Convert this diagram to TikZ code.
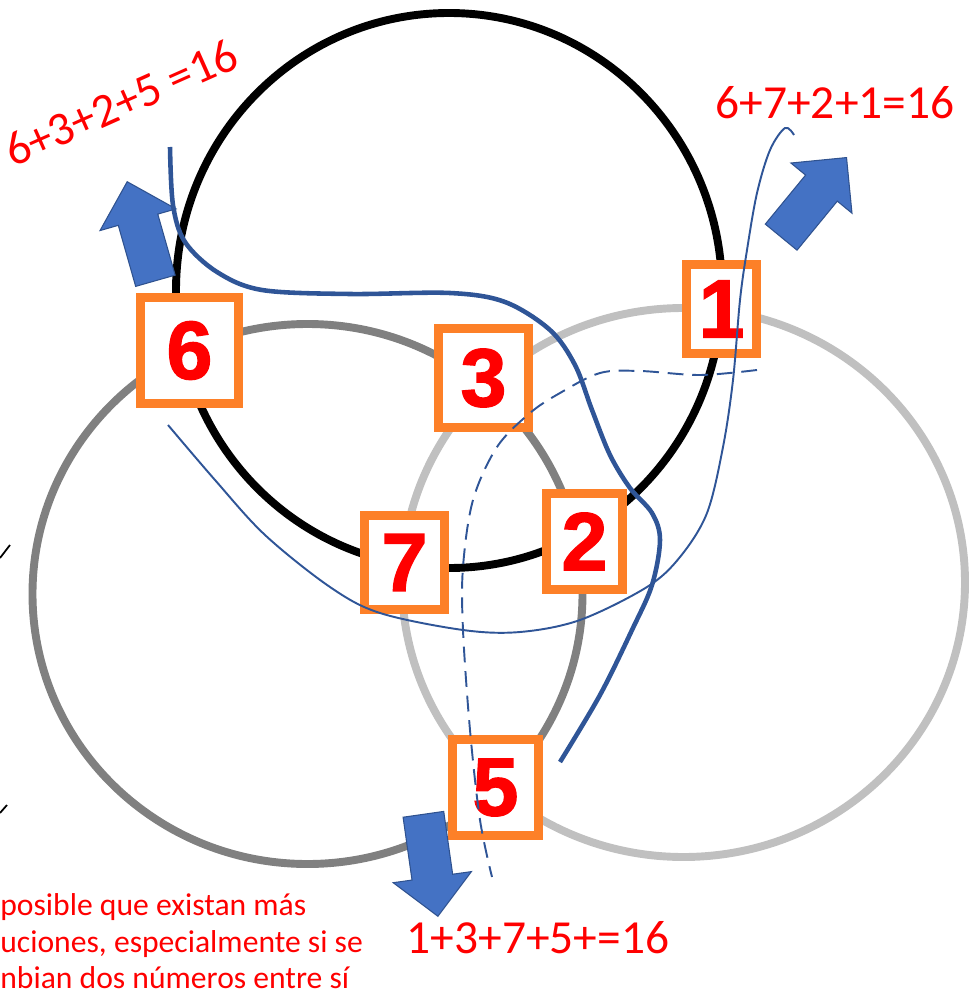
\documentclass[tikz,border=0pt]{standalone}
\usepackage{fontspec}
\setmainfont{Carlito}
\newfontfamily\numfont[BoldFeatures={FakeBold=1.6}]{Liberation Sans}
\usetikzlibrary{shapes.arrows}
\definecolor{ringdark}{RGB}{128,128,128}
\definecolor{ringlight}{RGB}{192,192,192}
\definecolor{boxorange}{RGB}{253,128,40}
\definecolor{routeblue}{RGB}{47,85,151}
\definecolor{arrowfill}{RGB}{68,114,196}
\definecolor{arrowborder}{RGB}{47,82,143}
\definecolor{sumred}{RGB}{255,0,0}

\begin{document}
\begin{tikzpicture}[
    x=0.02cm, y=-0.02cm,
    ring/.style={line width=4.5pt},
    numbox/.style={draw=boxorange, fill=white, line width=5pt, inner sep=0pt,
                   text=sumred, font=\numfont\bfseries\fontsize{47}{47}\selectfont},
    bigarrow/.style={single arrow, draw=arrowborder, fill=arrowfill, line width=0.6pt,
                     minimum height=2.06cm, inner xsep=0pt, inner ysep=0.4cm,
                     single arrow head extend=0.38cm, single arrow head indent=0pt,
                     anchor=tip},
    route/.style={draw=routeblue, line width=2.6pt},
    thinroute/.style={draw=routeblue, line width=1.1pt},
    dashroute/.style={draw=routeblue, line width=1.1pt, dash pattern=on 9pt off 5pt},
    sumlabel/.style={text=sumred, inner sep=0pt, font=\fontsize{27}{27}\selectfont},
    notelabel/.style={text=sumred, inner sep=0pt, anchor=base west,
                      font=\fontsize{18}{21}\selectfont},
]
\useasboundingbox (0,0) rectangle (976,997);

%% ── Three rings ─────────────────────────────────────────────────────────────
\draw[ring, draw=ringdark]  (307.5,594) ellipse [x radius=275, y radius=270];
\draw[ring, draw=ringlight] (683.5,582.5) ellipse [x radius=281.5, y radius=274.5];
\draw[ring, draw=black]     (449,290.5) ellipse [x radius=273, y radius=277.5];

%% ── Numbered boxes at the crossings ─────────────────────────────────────────
\node[numbox, minimum width=1.96cm, minimum height=2.12cm] (six)   at (189.5,350.5) {6};
\node[numbox, minimum width=1.40cm, minimum height=1.78cm] (one)   at (721.5,309)   {1};
\node[numbox, minimum width=1.80cm, minimum height=1.98cm] (three) at (483.5,378)   {3};
\node[numbox, minimum width=1.60cm, minimum height=1.88cm] (seven) at (404.5,562.5) {7};
\node[numbox, minimum width=1.52cm, minimum height=1.92cm] (two)   at (584.5,541.5) {2};
\node[numbox, minimum width=1.72cm, minimum height=1.92cm] (five)  at (495.5,787.5) {5};

%% ── Block arrows (placed by their tips) ─────────────────────────────────────
\node[bigarrow, rotate=105.9] (arrowtl)  at (127,181) {};
\node[bigarrow, rotate=50.6]  (arrowtr)  at (847,157) {};
\node[bigarrow, rotate=-81.9] (arrowbot) at (438,917) {};

%% ── Sum routes ──────────────────────────────────────────────────────────────
\draw[route] plot[smooth, tension=0.55] coordinates {
  (170,147) (173,205) (185,242) (217,272) (262,290) (350,294) (450,293)
  (505,302) (550,330) (575,365) (592,410) (610,455) (630,488) (652,513)
  (660,540) (652,585) (632,630) (600,695) (560,762)};

\draw[thinroute] plot[smooth, tension=0.55] coordinates {
  (168,425) (215,480) (265,535) (330,587) (380,613) (463,630) (520,632)
  (580,620) (647,587) (680,557) (707,513) (723,447) (733,380) (740,300)
  (747,250) (757,193) (770,150) (785,128) (794,135)};

\draw[dashroute] plot[smooth, tension=0.55] coordinates {
  (757,370) (700,375) (640,371) (600,373) (560,393) (530,413) (497,447)
  (473,500) (463,567) (463,630) (470,730) (480,820) (492,877)};

%% ── Sums ────────────────────────────────────────────────────────────────────
\node[sumlabel, rotate=24, anchor=base west] (sumleft) at (13,168) {6+3+2+5 =16};
\node[sumlabel, anchor=base] (sumright) at (835,118) {6+7+2+1=16};
\node[sumlabel, anchor=base] (sumdown)  at (538,953) {1+3+7+5+=16};

%% ── Note (cut at the left edge) ─────────────────────────────────────────────
\node[notelabel] (noteA) at (0,915) {posible que existan más};
\node[notelabel] (noteB) at (0,952) {uciones, especialmente si se};
\node[notelabel] (noteC) at (0,988) {nbian dos números entre sí};

%% ── Marks at the left edge ──────────────────────────────────────────────────
\draw[line width=1pt] (0,558) -- (10,545);
\draw[line width=1pt] (0,813) -- (7,805);

\end{tikzpicture}
\end{document}
